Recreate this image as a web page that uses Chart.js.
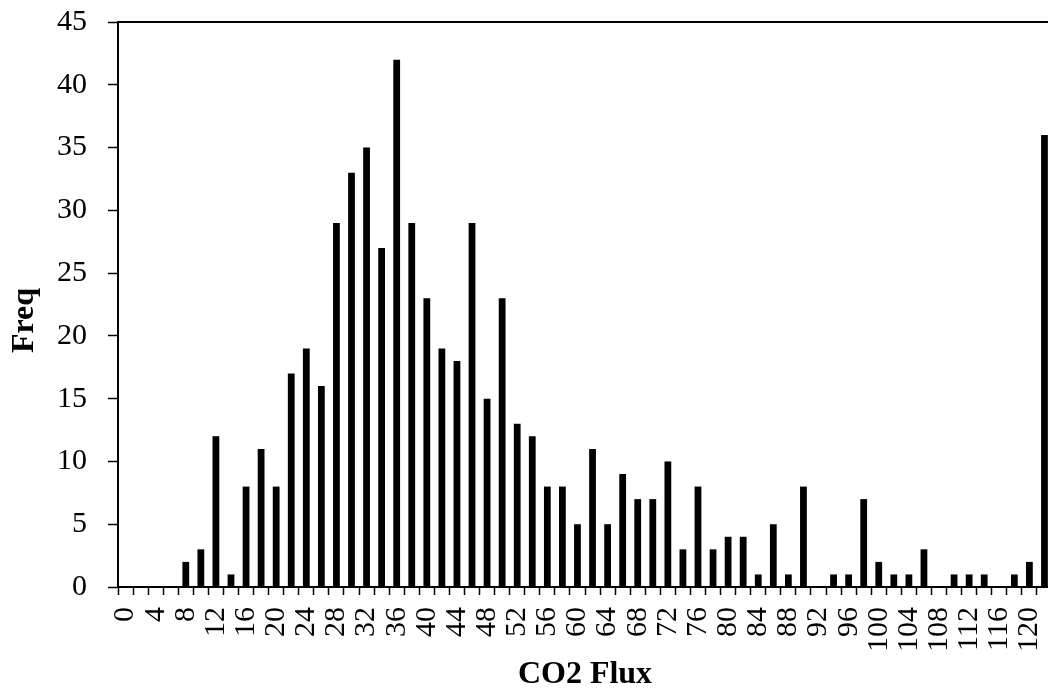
<!DOCTYPE html>
<html>
<head>
<meta charset="utf-8">
<script src="https://cdn.jsdelivr.net/npm/chart.js@4/dist/chart.umd.min.js"></script>
<style>
  html, body { margin: 0; padding: 0; background: #ffffff; overflow: hidden; }
  #wrap { width: 1048px; height: 694px; overflow: hidden; }
</style>
</head>
<body>
<div id="wrap"><canvas id="histChart" width="1060" height="694"></canvas></div>
<script>
// Klassen (CO2 Flux, Schrittweite 2)
const fluxBins = [
  0, 2, 4, 6, 8, 10, 12, 14, 16, 18, 20, 22, 24, 26, 28, 30, 32, 34, 36, 38,
  40, 42, 44, 46, 48, 50, 52, 54, 56, 58, 60, 62, 64, 66, 68, 70, 72, 74, 76, 78,
  80, 82, 84, 86, 88, 90, 92, 94, 96, 98, 100, 102, 104, 106, 108, 110, 112, 114, 116, 118,
  120, 122
];
// Häufigkeiten
const freqValues = [
  0, 0, 0, 0, 2, 3, 12, 1, 8, 11, 8, 17, 19, 16, 29, 33, 35, 27, 42, 29,
  23, 19, 18, 29, 15, 23, 13, 12, 8, 8, 5, 11, 5, 9, 7, 7, 10, 3, 8, 3,
  4, 4, 1, 5, 1, 8, 0, 1, 1, 7, 2, 1, 1, 3, 0, 1, 1, 1, 0, 1,
  2, 36
];
const yTicks = [0, 5, 10, 15, 20, 25, 30, 35, 40, 45];

const serif = "'Liberation Serif', 'Times New Roman', serif";

// Rahmen oben/rechts um die Plotfläche
const frameBorder = {
  id: 'frameBorder',
  afterDraw(chart) {
    const { ctx, chartArea } = chart;
    ctx.save();
    ctx.strokeStyle = '#000';
    ctx.lineWidth = 2;
    ctx.beginPath();
    ctx.moveTo(chartArea.left, chartArea.top);
    ctx.lineTo(chartArea.right, chartArea.top);
    ctx.lineTo(chartArea.right, chartArea.bottom);
    ctx.stroke();
    ctx.restore();
  }
};

const ctx = document.getElementById('histChart').getContext('2d');
new Chart(ctx, {
  type: 'bar',
  data: {
    labels: fluxBins,
    datasets: [{
      label: 'Freq',
      data: freqValues,
      backgroundColor: '#000000',
      borderWidth: 0,
      barPercentage: 0.45,
      categoryPercentage: 1.0
    }]
  },
  options: {
    responsive: false,
    animation: false,
    layout: { padding: { top: 22, right: 8, left: 0, bottom: 0 } },
    plugins: {
      legend: { display: false },
      tooltip: { enabled: false }
    },
    scales: {
      x: {
        type: 'category',
        offset: true,
        grid: {
          offset: true,
          drawOnChartArea: false,
          drawTicks: true,
          tickLength: 8,
          tickWidth: 1.5,
          tickColor: '#000'
        },
        border: { display: true, color: '#000', width: 2 },
        ticks: {
          autoSkip: false,
          minRotation: 90,
          maxRotation: 90,
          padding: 12,
          color: '#000',
          font: { family: serif, size: 30 },
          callback: function(value, index) {
            return index % 2 === 0 ? String(fluxBins[index]) : '';
          }
        },
        title: {
          display: true,
          text: 'CO2 Flux',
          color: '#000',
          font: { family: serif, size: 32, weight: 'bold' },
          padding: { top: 0, bottom: 0 }
        },
        afterFit(scale) {
          scale.height = 107;
          scale.paddingLeft = 0;
          scale.paddingRight = 0;
        }
      },
      y: {
        min: 0,
        max: 45,
        afterBuildTicks(scale) { scale.ticks = yTicks.map(v => ({ value: v })); },
        grid: {
          drawOnChartArea: false,
          drawTicks: true,
          tickLength: 10,
          tickWidth: 1.5,
          tickColor: '#000'
        },
        border: { display: true, color: '#000', width: 2 },
        ticks: {
          padding: 21,
          color: '#000',
          font: { family: serif, size: 30 }
        },
        title: {
          display: true,
          // nachgestellte Leerzeichen schieben den Titel etwas nach unten
          text: 'Freq\u00a0\u00a0\u00a0\u00a0',
          color: '#000',
          font: { family: serif, size: 32, weight: 'bold' },
          padding: { top: 6, bottom: 0 }
        },
        afterFit(scale) {
          scale.width = 118;
          scale.paddingTop = 0;
          scale.paddingBottom = 0;
        }
      }
    }
  },
  plugins: [frameBorder]
});
</script>
</body>
</html>
